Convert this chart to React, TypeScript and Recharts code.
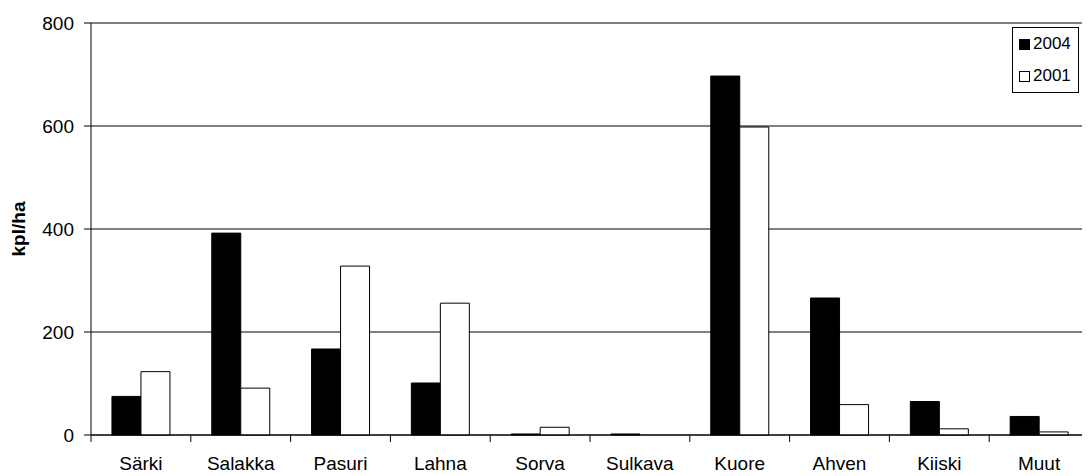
import React from 'react';
import { BarChart, Bar, XAxis, YAxis, CartesianGrid, Legend, Label } from 'recharts';

// Fish catch density per species, individuals per hectare
const species = ['Särki', 'Salakka', 'Pasuri', 'Lahna', 'Sorva', 'Sulkava', 'Kuore', 'Ahven', 'Kiiski', 'Muut'];
const values2004 = [75, 392, 167, 101, 2, 2, 697, 266, 65, 36];
const values2001 = [123, 91, 328, 256, 15, 0, 598, 59, 12, 6];
const seriesNames = ['2004', '2001'];
const yTicks = [0, 200, 400, 600, 800];

const data = species.map((name, i) => ({ name, y2004: values2004[i], y2001: values2001[i] }));

const FONT = '"Liberation Sans", Arial, Helvetica, sans-serif';
const CHART_W = 1082;
const CHART_H = 468;
const MARGIN = { top: 15, right: 1, left: 0, bottom: 8 };
const Y_AXIS_W = 83;
const X_AXIS_H = 33;
const PLOT_W = CHART_W - MARGIN.left - MARGIN.right - Y_AXIS_W;
const PLOT_BOTTOM = CHART_H - MARGIN.bottom - X_AXIS_H;
const HALF_BAND = PLOT_W / species.length / 2;

const CategoryTick = (props: any) => {
  const { x, payload, index } = props;
  const left = x - HALF_BAND;
  const right = x + HALF_BAND;
  return (
    <g>
      <line x1={left} x2={left} y1={PLOT_BOTTOM} y2={PLOT_BOTTOM + 7} stroke="#000" />
      {index === species.length - 1 && (
        <line x1={right} x2={right} y1={PLOT_BOTTOM} y2={PLOT_BOTTOM + 7} stroke="#000" />
      )}
      <text x={x} y={PLOT_BOTTOM + 35} textAnchor="middle" fontFamily={FONT} fontSize={19} fill="#000">
        {payload.value}
      </text>
    </g>
  );
};

const LegendBox = (props: any) => {
  const items = [...(props.payload || [])].sort(
    (a: any, b: any) => seriesNames.indexOf(String(a.value)) - seriesNames.indexOf(String(b.value))
  );
  return (
    <div
      style={{
        border: '1px solid #000',
        width: 65,
        height: 64,
        boxSizing: 'content-box',
        background: '#fff',
        fontFamily: FONT,
        fontSize: 17,
        color: '#000',
        position: 'relative',
      }}
    >
      {items.map((it: any, i: number) => (
        <div
          key={it.value}
          style={{ position: 'absolute', left: 6, top: 5 + i * 32, height: 22, display: 'flex', alignItems: 'center' }}
        >
          <span
            style={{
              display: 'inline-block',
              width: 9,
              height: 9,
              border: '1px solid #000',
              background: it.dataKey === 'y2004' ? '#000' : '#fff',
              marginRight: 3,
            }}
          />
          <span>{it.value}</span>
        </div>
      ))}
    </div>
  );
};

const AxisTitle = (props: any) => {
  const vb = props.viewBox;
  const cy = vb.y + vb.height / 2;
  const cx = 10;
  return (
    <text
      x={cx}
      y={cy}
      transform={`rotate(-90, ${cx}, ${cy})`}
      textAnchor="middle"
      dominantBaseline="central"
      fontFamily={FONT}
      fontSize={19}
      fontWeight="bold"
      fill="#000"
    >
      kpl/ha
    </text>
  );
};

export default function App() {
  return (
    <BarChart
      width={CHART_W}
      height={CHART_H}
      data={data}
      margin={MARGIN}
      barCategoryGap="21%"
      barGap={0}
    >
      <CartesianGrid vertical={false} stroke="#000" strokeWidth={1} />
      <XAxis
        dataKey="name"
        height={X_AXIS_H}
        axisLine={{ stroke: '#000' }}
        tickLine={false}
        tick={<CategoryTick />}
        interval={0}
      />
      <YAxis
        width={Y_AXIS_W}
        domain={[0, 800]}
        ticks={yTicks}
        axisLine={{ stroke: '#000' }}
        tickLine={{ stroke: '#000' }}
        tickSize={7}
        tickMargin={10}
        tick={{ fontFamily: FONT, fontSize: 19, fill: '#000' }}
      >
        <Label content={<AxisTitle />} />
      </YAxis>
      <Legend
        content={<LegendBox />}
        layout="vertical"
        verticalAlign="middle"
        align="center"
        wrapperStyle={{ top: 19, left: 1004, width: 67 }}
      />
      <Bar dataKey="y2004" name="2004" fill="#000" stroke="#000" strokeWidth={1} isAnimationActive={false} />
      <Bar dataKey="y2001" name="2001" fill="#fff" stroke="#000" strokeWidth={1} isAnimationActive={false} />
    </BarChart>
  );
}
